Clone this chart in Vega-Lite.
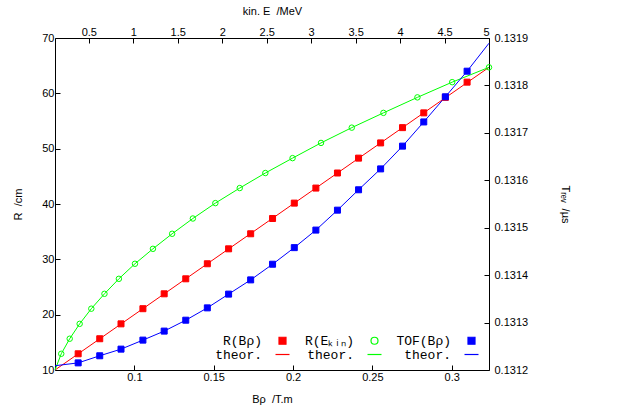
{
  "$schema": "https://vega.github.io/schema/vega-lite/v6.json",
  "width": 434,
  "height": 332,
  "autosize": {"type": "none"},
  "padding": {"left": 55, "top": 38, "right": 139, "bottom": 38},
  "background": "white",
  "config": {
    "view": {"stroke": null},
    "font": "Liberation Sans",
    "axis": {
      "labelFont": "Liberation Sans", "labelFontSize": 11, "labelColor": "#000",
      "titleFont": "Liberation Sans", "titleFontSize": 11, "titleFontWeight": "normal", "titleColor": "#000",
      "domainColor": "#000", "domainWidth": 1, "tickColor": "#000", "tickSize": -5, "tickWidth": 1,
      "grid": false, "labelPadding": 6
    },
    "legend": {
      "orient": "bottom-right", "offset": 8, "padding": 0, "columns": 3,
      "labelFont": "Liberation Mono", "labelFontSize": 13, "labelColor": "#000",
      "labelAlign": "right", "labelOffset": -27, "symbolSize": 49, "symbolStrokeWidth": 1.2,
      "columnPadding": 12, "rowPadding": 0
    }
  },
  "datasets": {
    "red_pts": [
      {"s": "a", "bp": 0.0646, "r": 12.93}, {"s": "a", "bp": 0.0782, "r": 15.65}, {"s": "a", "bp": 0.0916, "r": 18.34},
      {"s": "a", "bp": 0.1054, "r": 21.08}, {"s": "a", "bp": 0.1188, "r": 23.77}, {"s": "a", "bp": 0.1324, "r": 26.48},
      {"s": "a", "bp": 0.1460, "r": 29.20}, {"s": "a", "bp": 0.1594, "r": 31.90}, {"s": "a", "bp": 0.1733, "r": 34.62},
      {"s": "a", "bp": 0.1871, "r": 37.38}, {"s": "a", "bp": 0.2008, "r": 40.16}, {"s": "a", "bp": 0.2144, "r": 42.88},
      {"s": "a", "bp": 0.2280, "r": 45.60}, {"s": "a", "bp": 0.2413, "r": 48.29}, {"s": "a", "bp": 0.2552, "r": 51.04},
      {"s": "a", "bp": 0.2690, "r": 53.80}, {"s": "a", "bp": 0.2824, "r": 56.47}, {"s": "a", "bp": 0.2960, "r": 59.27},
      {"s": "a", "bp": 0.3097, "r": 62.02}
    ],
    "red_line": [
      {"s": "d", "bp": 0.05, "r": 10.0}, {"s": "d", "bp": 0.3235, "r": 64.7}
    ],
    "green_pts": [
      {"s": "b", "e": 0.190, "r": 12.93}, {"s": "b", "e": 0.285, "r": 15.65}, {"s": "b", "e": 0.397, "r": 18.34},
      {"s": "b", "e": 0.528, "r": 21.08}, {"s": "b", "e": 0.676, "r": 23.77}, {"s": "b", "e": 0.838, "r": 26.48},
      {"s": "b", "e": 1.019, "r": 29.20}, {"s": "b", "e": 1.221, "r": 31.90}, {"s": "b", "e": 1.437, "r": 34.62},
      {"s": "b", "e": 1.670, "r": 37.38}, {"s": "b", "e": 1.923, "r": 40.16}, {"s": "b", "e": 2.197, "r": 42.88},
      {"s": "b", "e": 2.485, "r": 45.60}, {"s": "b", "e": 2.791, "r": 48.29}, {"s": "b", "e": 3.111, "r": 51.04},
      {"s": "b", "e": 3.457, "r": 53.80}, {"s": "b", "e": 3.813, "r": 56.47}, {"s": "b", "e": 4.195, "r": 59.27},
      {"s": "b", "e": 4.586, "r": 62.02}, {"s": "b", "e": 5.0, "r": 64.70}
    ],
    "green_line": [
      {"s": "e", "e": 0.1197, "r": 10.0},
      {"s": "e", "e": 0.190, "r": 12.93}, {"s": "e", "e": 0.285, "r": 15.65}, {"s": "e", "e": 0.397, "r": 18.34},
      {"s": "e", "e": 0.528, "r": 21.08}, {"s": "e", "e": 0.676, "r": 23.77}, {"s": "e", "e": 0.838, "r": 26.48},
      {"s": "e", "e": 1.019, "r": 29.20}, {"s": "e", "e": 1.221, "r": 31.90}, {"s": "e", "e": 1.437, "r": 34.62},
      {"s": "e", "e": 1.670, "r": 37.38}, {"s": "e", "e": 1.923, "r": 40.16}, {"s": "e", "e": 2.197, "r": 42.88},
      {"s": "e", "e": 2.485, "r": 45.60}, {"s": "e", "e": 2.791, "r": 48.29}, {"s": "e", "e": 3.111, "r": 51.04},
      {"s": "e", "e": 3.457, "r": 53.80}, {"s": "e", "e": 3.813, "r": 56.47}, {"s": "e", "e": 4.195, "r": 59.27},
      {"s": "e", "e": 4.586, "r": 62.02}, {"s": "e", "e": 5.0, "r": 64.70}
    ],
    "blue_pts": [
      {"s": "c", "bp": 0.0646, "t": 0.131215}, {"s": "c", "bp": 0.0782, "t": 0.131230}, {"s": "c", "bp": 0.0916, "t": 0.131244},
      {"s": "c", "bp": 0.1054, "t": 0.131263}, {"s": "c", "bp": 0.1188, "t": 0.131282}, {"s": "c", "bp": 0.1324, "t": 0.131305},
      {"s": "c", "bp": 0.1460, "t": 0.131331}, {"s": "c", "bp": 0.1594, "t": 0.131360}, {"s": "c", "bp": 0.1733, "t": 0.131390},
      {"s": "c", "bp": 0.1871, "t": 0.131423}, {"s": "c", "bp": 0.2008, "t": 0.131458}, {"s": "c", "bp": 0.2144, "t": 0.131495},
      {"s": "c", "bp": 0.2280, "t": 0.131537}, {"s": "c", "bp": 0.2413, "t": 0.131580}, {"s": "c", "bp": 0.2552, "t": 0.131624},
      {"s": "c", "bp": 0.2690, "t": 0.131672}, {"s": "c", "bp": 0.2824, "t": 0.131723}, {"s": "c", "bp": 0.2960, "t": 0.131776},
      {"s": "c", "bp": 0.3097, "t": 0.131830}
    ],
    "blue_line": [
      {"s": "f", "bp": 0.05, "t": 0.131209},
      {"s": "f", "bp": 0.0646, "t": 0.131215}, {"s": "f", "bp": 0.0782, "t": 0.131230}, {"s": "f", "bp": 0.0916, "t": 0.131244},
      {"s": "f", "bp": 0.1054, "t": 0.131263}, {"s": "f", "bp": 0.1188, "t": 0.131282}, {"s": "f", "bp": 0.1324, "t": 0.131305},
      {"s": "f", "bp": 0.1460, "t": 0.131331}, {"s": "f", "bp": 0.1594, "t": 0.131360}, {"s": "f", "bp": 0.1733, "t": 0.131390},
      {"s": "f", "bp": 0.1871, "t": 0.131423}, {"s": "f", "bp": 0.2008, "t": 0.131458}, {"s": "f", "bp": 0.2144, "t": 0.131495},
      {"s": "f", "bp": 0.2280, "t": 0.131537}, {"s": "f", "bp": 0.2413, "t": 0.131580}, {"s": "f", "bp": 0.2552, "t": 0.131624},
      {"s": "f", "bp": 0.2690, "t": 0.131672}, {"s": "f", "bp": 0.2824, "t": 0.131723}, {"s": "f", "bp": 0.2960, "t": 0.131776},
      {"s": "f", "bp": 0.3097, "t": 0.131830}, {"s": "f", "bp": 0.3235, "t": 0.131889}
    ]
  },
  "layer": [
    {
      "data": {"name": "red_line"},
      "mark": {"type": "line", "strokeWidth": 1},
      "encoding": {
        "x": {"field": "bp", "type": "quantitative", "scale": {"domain": [0.05, 0.3235], "nice": false, "zero": false},
              "axis": {"orient": "bottom", "values": [0.1, 0.15, 0.2, 0.25, 0.3], "format": "~g", "title": "Bρ \u00a0/T.m", "titlePadding": 11}},
        "y": {"field": "r", "type": "quantitative", "scale": {"domain": [10, 70], "nice": false, "zero": false},
              "axis": {"orient": "left", "values": [10, 20, 30, 40, 50, 60, 70], "title": "R \u00a0/cm", "titlePadding": 18}},
        "stroke": {"field": "s", "type": "nominal", "title": null,
                   "scale": {"domain": ["a", "d", "b", "e", "c", "f"], "range": ["#ff0000", "#ff0000", "#00ff00", "#00ff00", "#0000ff", "#0000ff"]},
                   "legend": {"labelExpr": "datum.value == 'a' ? 'R(Bρ)' : datum.value == 'b' ? 'R(Eₖᵢₙ)' : datum.value == 'c' ? 'TOF(Bρ)' : 'theor.'"}}
      }
    },
    {
      "data": {"name": "green_line"},
      "mark": {"type": "line", "strokeWidth": 1},
      "encoding": {
        "x": {"field": "e", "type": "quantitative", "scale": {"domain": [0.1197, 5], "nice": false, "zero": false},
              "axis": {"orient": "top", "values": [0.5, 1, 1.5, 2, 2.5, 3, 3.5, 4, 4.5, 5], "format": "~g", "title": "kin. E \u00a0/MeV", "titlePadding": 10}},
        "y": {"field": "r", "type": "quantitative", "scale": {"domain": [10, 70], "nice": false, "zero": false}, "axis": null},
        "stroke": {"field": "s", "type": "nominal", "title": null,
                   "scale": {"domain": ["a", "d", "b", "e", "c", "f"], "range": ["#ff0000", "#ff0000", "#00ff00", "#00ff00", "#0000ff", "#0000ff"]},
                   "legend": {"labelExpr": "datum.value == 'a' ? 'R(Bρ)' : datum.value == 'b' ? 'R(Eₖᵢₙ)' : datum.value == 'c' ? 'TOF(Bρ)' : 'theor.'"}}
      }
    },
    {
      "data": {"name": "blue_line"},
      "mark": {"type": "line", "strokeWidth": 1},
      "encoding": {
        "x": {"field": "bp", "type": "quantitative", "scale": {"domain": [0.05, 0.3235], "nice": false, "zero": false}, "axis": null},
        "y": {"field": "t", "type": "quantitative", "scale": {"domain": [0.1312, 0.1319], "nice": false, "zero": false},
              "axis": {"orient": "right", "values": [0.1312, 0.1313, 0.1314, 0.1315, 0.1316, 0.1317, 0.1318, 0.1319], "format": ".4f", "title": "Tᵣₑᵥ \u00a0/µs", "titlePadding": 32, "labelPadding": 10}},
        "stroke": {"field": "s", "type": "nominal", "title": null,
                   "scale": {"domain": ["a", "d", "b", "e", "c", "f"], "range": ["#ff0000", "#ff0000", "#00ff00", "#00ff00", "#0000ff", "#0000ff"]},
                   "legend": {"labelExpr": "datum.value == 'a' ? 'R(Bρ)' : datum.value == 'b' ? 'R(Eₖᵢₙ)' : datum.value == 'c' ? 'TOF(Bρ)' : 'theor.'"}}
      }
    },
    {
      "data": {"name": "red_pts"},
      "mark": {"type": "point", "size": 36, "strokeWidth": 1, "opacity": 1},
      "encoding": {
        "x": {"field": "bp", "type": "quantitative", "scale": {"domain": [0.05, 0.3235], "nice": false, "zero": false}, "axis": null},
        "y": {"field": "r", "type": "quantitative", "scale": {"domain": [10, 70], "nice": false, "zero": false}, "axis": null},
        "shape": {"field": "s", "type": "nominal", "title": null,
                  "scale": {"domain": ["a", "d", "b", "e", "c", "f"], "range": ["square", "M-2,0H2", "circle", "M-2,0H2", "square", "M-2,0H2"]},
                  "legend": {"labelExpr": "datum.value == 'a' ? 'R(Bρ)' : datum.value == 'b' ? 'R(Eₖᵢₙ)' : datum.value == 'c' ? 'TOF(Bρ)' : 'theor.'"}},
        "fill": {"field": "s", "type": "nominal", "title": null,
                 "scale": {"domain": ["a", "d", "b", "e", "c", "f"], "range": ["#ff0000", "transparent", "transparent", "transparent", "#0000ff", "transparent"]},
                 "legend": {"labelExpr": "datum.value == 'a' ? 'R(Bρ)' : datum.value == 'b' ? 'R(Eₖᵢₙ)' : datum.value == 'c' ? 'TOF(Bρ)' : 'theor.'"}},
        "stroke": {"field": "s", "type": "nominal", "title": null,
                   "scale": {"domain": ["a", "d", "b", "e", "c", "f"], "range": ["#ff0000", "#ff0000", "#00ff00", "#00ff00", "#0000ff", "#0000ff"]},
                   "legend": {"labelExpr": "datum.value == 'a' ? 'R(Bρ)' : datum.value == 'b' ? 'R(Eₖᵢₙ)' : datum.value == 'c' ? 'TOF(Bρ)' : 'theor.'"}}
      }
    },
    {
      "data": {"name": "green_pts"},
      "mark": {"type": "point", "size": 30, "strokeWidth": 1, "opacity": 1},
      "encoding": {
        "x": {"field": "e", "type": "quantitative", "scale": {"domain": [0.1197, 5], "nice": false, "zero": false}, "axis": null},
        "y": {"field": "r", "type": "quantitative", "scale": {"domain": [10, 70], "nice": false, "zero": false}, "axis": null},
        "shape": {"field": "s", "type": "nominal", "title": null,
                  "scale": {"domain": ["a", "d", "b", "e", "c", "f"], "range": ["square", "M-2,0H2", "circle", "M-2,0H2", "square", "M-2,0H2"]},
                  "legend": {"labelExpr": "datum.value == 'a' ? 'R(Bρ)' : datum.value == 'b' ? 'R(Eₖᵢₙ)' : datum.value == 'c' ? 'TOF(Bρ)' : 'theor.'"}},
        "fill": {"field": "s", "type": "nominal", "title": null,
                 "scale": {"domain": ["a", "d", "b", "e", "c", "f"], "range": ["#ff0000", "transparent", "transparent", "transparent", "#0000ff", "transparent"]},
                 "legend": {"labelExpr": "datum.value == 'a' ? 'R(Bρ)' : datum.value == 'b' ? 'R(Eₖᵢₙ)' : datum.value == 'c' ? 'TOF(Bρ)' : 'theor.'"}},
        "stroke": {"field": "s", "type": "nominal", "title": null,
                   "scale": {"domain": ["a", "d", "b", "e", "c", "f"], "range": ["#ff0000", "#ff0000", "#00ff00", "#00ff00", "#0000ff", "#0000ff"]},
                   "legend": {"labelExpr": "datum.value == 'a' ? 'R(Bρ)' : datum.value == 'b' ? 'R(Eₖᵢₙ)' : datum.value == 'c' ? 'TOF(Bρ)' : 'theor.'"}}
      }
    },
    {
      "data": {"name": "blue_pts"},
      "mark": {"type": "point", "size": 36, "strokeWidth": 1, "opacity": 1},
      "encoding": {
        "x": {"field": "bp", "type": "quantitative", "scale": {"domain": [0.05, 0.3235], "nice": false, "zero": false}, "axis": null},
        "y": {"field": "t", "type": "quantitative", "scale": {"domain": [0.1312, 0.1319], "nice": false, "zero": false}, "axis": null},
        "shape": {"field": "s", "type": "nominal", "title": null,
                  "scale": {"domain": ["a", "d", "b", "e", "c", "f"], "range": ["square", "M-2,0H2", "circle", "M-2,0H2", "square", "M-2,0H2"]},
                  "legend": {"labelExpr": "datum.value == 'a' ? 'R(Bρ)' : datum.value == 'b' ? 'R(Eₖᵢₙ)' : datum.value == 'c' ? 'TOF(Bρ)' : 'theor.'"}},
        "fill": {"field": "s", "type": "nominal", "title": null,
                 "scale": {"domain": ["a", "d", "b", "e", "c", "f"], "range": ["#ff0000", "transparent", "transparent", "transparent", "#0000ff", "transparent"]},
                 "legend": {"labelExpr": "datum.value == 'a' ? 'R(Bρ)' : datum.value == 'b' ? 'R(Eₖᵢₙ)' : datum.value == 'c' ? 'TOF(Bρ)' : 'theor.'"}},
        "stroke": {"field": "s", "type": "nominal", "title": null,
                   "scale": {"domain": ["a", "d", "b", "e", "c", "f"], "range": ["#ff0000", "#ff0000", "#00ff00", "#00ff00", "#0000ff", "#0000ff"]},
                   "legend": {"labelExpr": "datum.value == 'a' ? 'R(Bρ)' : datum.value == 'b' ? 'R(Eₖᵢₙ)' : datum.value == 'c' ? 'TOF(Bρ)' : 'theor.'"}}
      }
    }
  ],
  "resolve": {"scale": {"x": "independent", "y": "independent"}}
}
